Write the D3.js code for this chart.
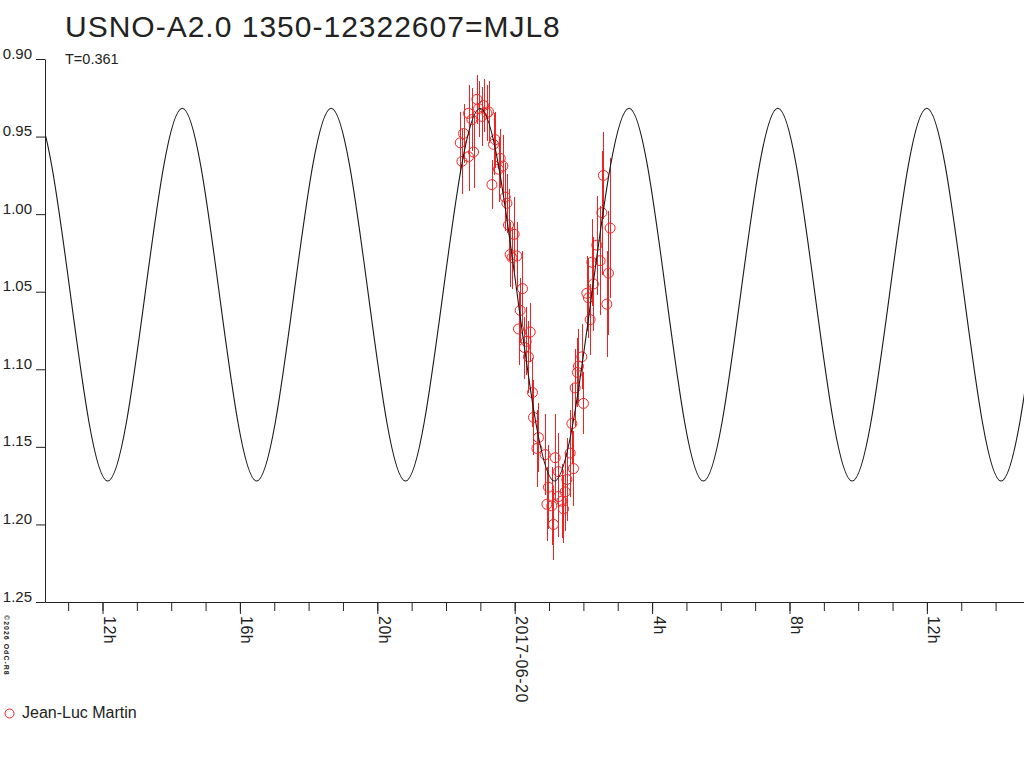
<!DOCTYPE html>
<html>
<head>
<meta charset="utf-8">
<script src="https://cdn.jsdelivr.net/npm/d3@7"></script>
<style>
  body { margin: 0; background: #fff; }
  svg { display: block; }
  text { font-family: "Liberation Sans", Arial, sans-serif; fill: #222; }
</style>
</head>
<body>
<svg id="chart" width="1024" height="768"></svg>
<script>
var titleText = "USNO-A2.0 1350-12322607=MJL8";
var periodText = "T=0.361";
var observerName = "Jean-Luc Martin";
var creditText = "\u00a92026 OdC-R8";

// hours from 2017-06-20 00:00 UT
var obsHour = [-1.585, -1.536, -1.489, -1.344, -1.344, -1.245, -1.199, -1.100, -1.053, -0.954,
  -0.908, -0.809, -0.762, -0.663, -0.617, -0.567, -0.471, -0.422, -0.343, -0.276,
  -0.227, -0.180, -0.131, -0.081, -0.015, 0.064, 0.111, 0.160, 0.227, 0.285,
  0.335, 0.401, 0.451, 0.518, 0.547, 0.646, 0.692, 0.887, 0.937, 0.983,
  1.082, 1.129, 1.178, 1.274, 1.274, 1.373, 1.420, 1.469, 1.519, 1.615,
  1.664, 1.711, 1.760, 1.827, 1.856, 1.955, 2.001, 2.100, 2.147, 2.196,
  2.246, 2.292, 2.391, 2.487, 2.537, 2.583, 2.682, 2.729, 2.778];
var obsMag = [0.954, 0.966, 0.948, 0.963, 0.935, 0.939, 0.960, 0.926, 0.932, 0.937,
  0.930, 0.935, 0.934, 0.981, 0.955, 0.952, 0.971, 0.964, 0.969, 0.989,
  0.993, 1.007, 1.026, 1.028, 1.013, 1.027, 1.074, 1.062, 1.048, 1.086,
  1.082, 1.092, 1.076, 1.115, 1.131, 1.151, 1.144, 1.155, 1.187, 1.176,
  1.188, 1.200, 1.157, 1.166, 1.182, 1.185, 1.190, 1.179, 1.171, 1.154,
  1.135, 1.164, 1.112, 1.102, 1.098, 1.092, 1.122, 1.051, 1.054, 1.068,
  1.031, 1.045, 1.020, 1.030, 0.999, 0.975, 1.058, 1.038, 1.009];
var obsErr = [0.020, 0.021, 0.019, 0.022, 0.018, 0.020, 0.023, 0.016, 0.018, 0.019,
  0.017, 0.018, 0.020, 0.016, 0.020, 0.018, 0.021, 0.019, 0.020, 0.022,
  0.019, 0.023, 0.021, 0.020, 0.024, 0.022, 0.023, 0.021, 0.024, 0.020,
  0.022, 0.023, 0.019, 0.022, 0.024, 0.025, 0.022, 0.026, 0.024, 0.027,
  0.025, 0.023, 0.028, 0.025, 0.026, 0.024, 0.022, 0.025, 0.027, 0.028,
  0.026, 0.024, 0.025, 0.022, 0.024, 0.021, 0.020, 0.024, 0.026, 0.023,
  0.028, 0.030, 0.032, 0.035, 0.040, 0.028, 0.034, 0.040, 0.045];

// maxima and minima of the fitted light curve
var fitHour = [-16.183, -14.016, -11.849, -9.677, -7.514, -5.342, -3.179, -1.007, 1.156,
  3.328, 5.491, 7.662, 9.825, 11.997, 14.160, 16.332, 18.498];
var fitMag = [1.172, 0.9317, 1.172, 0.9317, 1.172, 0.9317, 1.172, 0.9317, 1.172,
  0.9317, 1.172, 0.9317, 1.172, 0.9317, 1.172, 0.9317, 1.172];

var yTicks = [0.90, 0.95, 1.00, 1.05, 1.10, 1.15, 1.20, 1.25];
var xStartHour = -13.674;
var xEndHour = 14.827;

var epoch = Date.UTC(2017, 5, 20);
function hourToDate(h) { return new Date(epoch + h * 3600000); }

var svg = d3.select("#chart");
var plotLeft = 45, plotRight = 1024, plotTop = 59, plotBottom = 602;

var x = d3.scaleUtc()
  .domain([hourToDate(xStartHour), hourToDate(xEndHour)])
  .range([plotLeft, plotRight]);
var y = d3.scaleLinear()
  .domain([0.90, 1.25])
  .range([plotTop, plotBottom]);

svg.append("defs").append("clipPath").attr("id", "plotclip")
  .append("rect").attr("x", plotLeft).attr("y", 0)
  .attr("width", plotRight - plotLeft).attr("height", plotBottom);

// title and period
svg.append("text").attr("x", 65).attr("y", 37)
  .style("font-size", "30px").style("letter-spacing", "1px")
  .text(titleText);
svg.append("text").attr("x", 65).attr("y", 64)
  .style("font-size", "14.5px")
  .text(periodText);

// observations
var obs = obsHour.map(function(h, i) {
  return { t: hourToDate(h), mag: obsMag[i], err: obsErr[i] };
});

var plot = svg.append("g").attr("clip-path", "url(#plotclip)");

plot.append("g").selectAll("line")
  .data(obs)
  .enter()
  .append("line")
  .attr("x1", function(d) { return Math.round(x(d.t)) + 0.5; })
  .attr("x2", function(d) { return Math.round(x(d.t)) + 0.5; })
  .attr("y1", function(d) { return y(d.mag - d.err); })
  .attr("y2", function(d) { return y(d.mag + d.err); })
  .attr("stroke", "#ee2424")
  .attr("stroke-width", 1)
  .attr("shape-rendering", "crispEdges");

plot.append("g").selectAll("circle")
  .data(obs)
  .enter()
  .append("circle")
  .attr("cx", function(d) { return x(d.t); })
  .attr("cy", function(d) { return y(d.mag); })
  .attr("r", 5)
  .attr("fill", "none")
  .attr("stroke", "#ee2424")
  .attr("stroke-width", 1);

// fitted curve
var fit = fitHour.map(function(h, i) { return [hourToDate(h), fitMag[i]]; });
var line = d3.line()
  .x(function(d) { return x(d[0]); })
  .y(function(d) { return y(d[1]); })
  .curve(d3.curveMonotoneX);
plot.append("path")
  .attr("d", line(fit))
  .attr("fill", "none")
  .attr("stroke", "#1a1a1a")
  .attr("stroke-width", 1.1);

// y axis
var yAxis = svg.append("g")
  .attr("transform", "translate(" + plotLeft + ",0)")
  .call(d3.axisLeft(y).tickValues(yTicks).tickFormat(d3.format(".2f")).tickSize(9).tickSizeOuter(0));
yAxis.selectAll("text")
  .attr("x", -13).attr("y", -1).attr("dy", 0)
  .style("font-size", "15px").style("font-family", null);

// x axis, minor hour ticks then labelled 4h ticks
var minorAxis = svg.append("g")
  .attr("transform", "translate(0," + plotBottom + ")")
  .call(d3.axisBottom(x).ticks(d3.utcHour.every(1)).tickFormat("").tickSize(9).tickSizeOuter(0));

var fmtDay = d3.utcFormat("%Y-%m-%d");
var fmtHour = d3.utcFormat("%-Hh");
var majorAxis = svg.append("g")
  .attr("transform", "translate(0," + plotBottom + ")")
  .call(d3.axisBottom(x).ticks(d3.utcHour.every(4))
    .tickFormat(function(d) { return d.getUTCHours() === 0 ? fmtDay(d) : fmtHour(d); })
    .tickSize(12).tickSizeOuter(0));
majorAxis.select(".domain").remove();
majorAxis.selectAll("text")
  .attr("transform", "rotate(90)")
  .attr("x", 14).attr("y", -1).attr("dy", 0)
  .attr("text-anchor", "start")
  .style("font-size", "16px").style("letter-spacing", "0.5px").style("font-family", null);

svg.selectAll(".domain, .tick line").attr("stroke", "#222");

// credit
svg.append("text")
  .attr("transform", "translate(4,615) rotate(90)")
  .style("font-size", "7px").style("font-weight", "bold").style("letter-spacing", "1px")
  .text(creditText);

// legend
svg.append("circle").attr("cx", 9.5).attr("cy", 713.5).attr("r", 4.5)
  .attr("fill", "none").attr("stroke", "#ee2424");
svg.append("text").attr("x", 22).attr("y", 718)
  .style("font-size", "16px")
  .text(observerName);
</script>
</body>
</html>
